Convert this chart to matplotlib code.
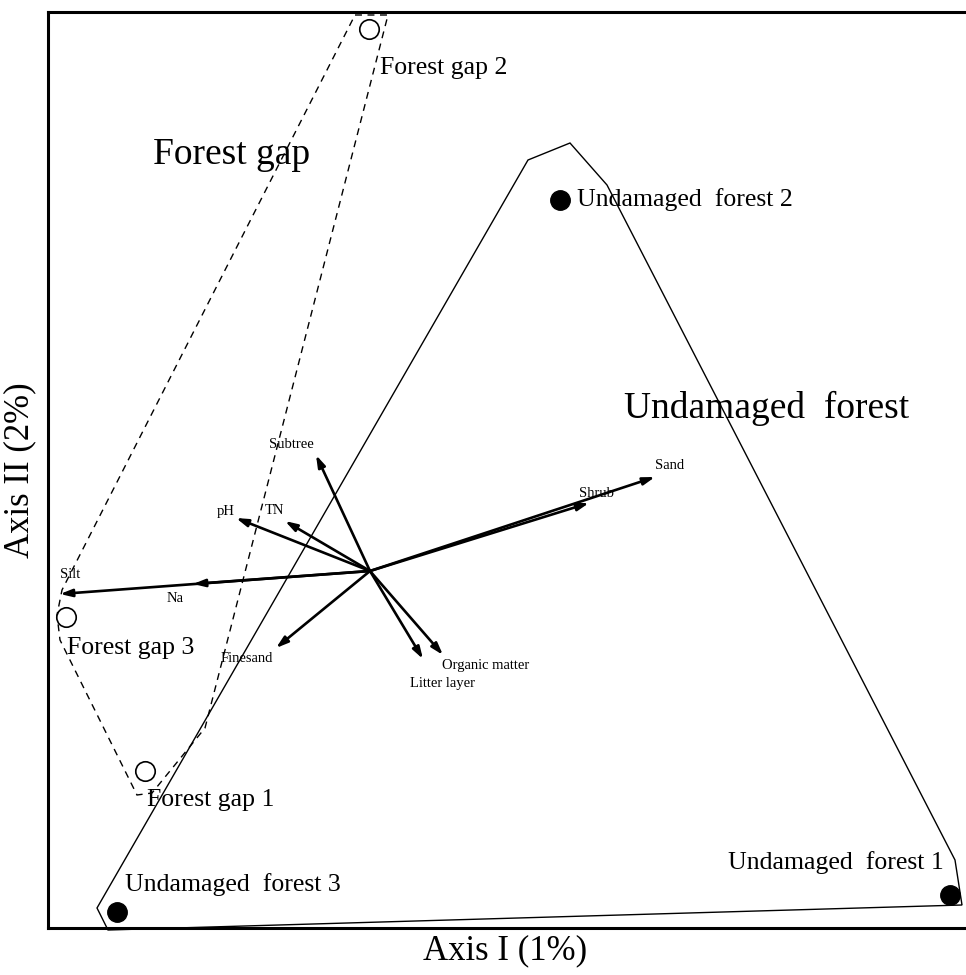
import matplotlib
matplotlib.use("Agg")
import matplotlib.pyplot as plt

# ---- data (ordination scores) ----
gap_sites = ["Forest gap 1", "Forest gap 2", "Forest gap 3"]
gap_x = [-2.25, -0.01, -3.04]
gap_y = [-2.00, 5.42, -0.46]

und_sites = ["Undamaged  forest 1", "Undamaged  forest 2", "Undamaged  forest 3"]
und_x = [5.80, 1.90, -2.53]
und_y = [-3.24, 3.71, -3.41]

env_names = ["Silt", "Na", "Subtree", "pH", "TN", "Finesand",
             "Litter layer", "Organic matter", "Sand", "Shrub"]
env_x = [-3.10, -1.77, -0.54, -1.34, -0.85, -0.94, 0.53, 0.73, 2.85, 2.19]
env_y = [-0.23, -0.13, 1.16, 0.53, 0.50, -0.77, -0.88, -0.84, 0.94, 0.68]

gap_hull_x = [-0.15, 0.18, -1.65, -2.18, -2.33, -3.10, -3.13, -3.08]
gap_hull_y = [5.56, 5.56, -1.57, -2.22, -2.24, -0.69, -0.44, -0.19]

und_hull_x = [2.00, 2.37, 5.85, 5.92, -2.62, -2.73, 1.58]
und_hull_y = [4.28, 3.86, -2.89, -3.34, -3.59, -3.37, 4.11]

# ---- figure ----
W, H = 966, 975
fig = plt.figure(figsize=(W / 100, H / 100), dpi=100)
L, R, T, B = 48, 966, 12, 928
ax = fig.add_axes([L / W, (H - B) / H, (R - L) / W, (B - T) / H])
ax.set_xlim(-3.22, 5.96)
ax.set_ylim(-3.57, 5.59)
ax.set_xticks([])
ax.set_yticks([])
for s in ["left", "top", "bottom"]:
    ax.spines[s].set_linewidth(2.2)
ax.spines["right"].set_visible(False)

serif = "Liberation Serif"

# hulls
ax.fill(gap_hull_x, gap_hull_y, facecolor="none", edgecolor="black",
        linewidth=1.0, linestyle=(0, (5, 4)), clip_on=False)
ax.fill(und_hull_x, und_hull_y, facecolor="none", edgecolor="black",
        linewidth=1.0, clip_on=False)

# environmental arrows
for name, x, y in zip(env_names, env_x, env_y):
    ax.annotate("", xy=(x, y), xytext=(0, 0),
                arrowprops=dict(arrowstyle="-|>,head_length=0.7,head_width=0.22",
                                lw=1.9, color="black", shrinkA=0, shrinkB=0))

env_lab_x = [-3.00, -1.95, -0.79, -1.44, -0.96, -1.23, 0.72, 1.16, 3.00, 2.26]
env_lab_y = [-0.03, -0.27, 1.26, 0.60, 0.60, -0.87, -1.12, -0.95, 1.05, 0.77]
for name, x, y in zip(env_names, env_lab_x, env_lab_y):
    ax.text(x, y, name, fontsize=10.5, family=serif, ha="center", va="center")

# site points
ax.plot(gap_x, gap_y, "o", ms=14, mfc="white", mec="black", mew=1.2, clip_on=False)
ax.plot(und_x, und_y, "o", ms=14, mfc="black", mec="black", clip_on=False)

site_lab = [("Forest gap 1", -2.23, -2.29, "left"),
            ("Forest gap 2", 0.10, 5.03, "left"),
            ("Forest gap 3", -3.03, -0.77, "left"),
            ("Undamaged  forest 1", 4.66, -2.92, "center"),
            ("Undamaged  forest 2", 2.07, 3.71, "left"),
            ("Undamaged  forest 3", -2.45, -3.14, "left")]
for t, x, y, ha in site_lab:
    ax.text(x, y, t, fontsize=18.5, family=serif, ha=ha, va="center")

ax.text(-1.38, 4.16, "Forest gap", fontsize=27, family=serif, ha="center", va="center")
ax.text(3.97, 1.63, "Undamaged  forest", fontsize=27, family=serif, ha="center", va="center")

fig.text(505 / W, 1 - 951 / H, "Axis I (1%)", fontsize=25, family=serif,
         ha="center", va="center")
fig.text(20 / W, 1 - 470 / H, "Axis II (2%)", fontsize=25, family=serif,
         ha="center", va="center", rotation=90)

fig.savefig("out.png", dpi=100)
